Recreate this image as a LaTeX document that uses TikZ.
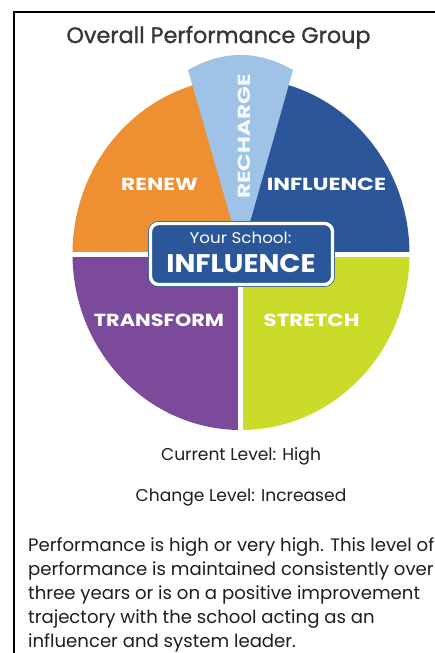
\documentclass[tikz,border=0pt]{standalone}
\usepackage{fontspec}
\setmainfont{Poppins}
\newfontfamily\headfont{Poppins}[FakeBold=1.1]
\definecolor{renewor}{HTML}{EE8F32}
\definecolor{rechargeblue}{HTML}{9EC3E6}
\definecolor{influblue}{HTML}{2B5699}
\definecolor{stretchgreen}{HTML}{CBDB2A}
\definecolor{transpurple}{HTML}{7B4A9A}
\definecolor{titlegray}{HTML}{363636}
\definecolor{bodyink}{HTML}{1E1E1E}
% stretch a label sideways to the wide lettering of the wheel
\newcommand\widelabel[2]{\scalebox{#1}[1]{#2}}
\tikzset{
  quadlabel/.style={text=white, font=\bfseries\fontsize{17.5}{19}\selectfont, inner sep=0pt, anchor=base},
  schoolbox/.style={fill=influblue, draw=influblue, double=white, double distance=3.4pt,
    line width=0.7pt, rounded corners=8pt, minimum width=182pt, minimum height=61pt, inner sep=0pt},
  infotext/.style={text=bodyink, font=\fontsize{17.1}{20}\selectfont, inner sep=0pt, anchor=base},
  paraline/.style={text=bodyink, font=\fontsize{18.1}{22}\selectfont, inner sep=0pt, anchor=base west},
  gap/.style={white, line width=5pt}
}
\begin{document}
\begin{tikzpicture}[x=1pt,y=1pt]
\useasboundingbox (0,0) rectangle (435,-653);
\clip (0,0) rectangle (435,-653);
\fill[white] (0,0) rectangle (435,-653);

% frame around the panel
\draw[line width=2pt] (14,-653) -- (14,-12) -- (435,-12);

% title
\node[text=titlegray, font=\headfont\fontsize{22.3}{25}\selectfont, inner sep=0pt, anchor=base] (title) at (218.5,-43) {Overall Performance Group};

% the four quadrants of the wheel
\coordinate (c) at (241,-254);
\fill[renewor] (c) -- ++(-168.5,0) arc[start angle=180, end angle=90, x radius=168.5, y radius=176] -- cycle;
\fill[influblue] (c) -- ++(0,176) arc[start angle=90, end angle=0, x radius=168.5, y radius=176] -- cycle;
\fill[stretchgreen] (c) -- ++(168.5,0) arc[start angle=0, end angle=-90, x radius=168.5, y radius=176] -- cycle;
\fill[transpurple] (c) -- ++(0,-176) arc[start angle=-90, end angle=-180, x radius=168.5, y radius=176] -- cycle;

% the recharge wedge reaching beyond the rim
\fill[rechargeblue] (c) -- (188,-70) .. controls (223,-50) and (258,-50) .. (293,-70) -- cycle;

% white separators between quadrants
\draw[gap] (66,-254) -- (416,-254);
\draw[gap] (240.5,-254) -- (240.5,-436);

% labels
\node[quadlabel] (renew) at (159.5,-190.5) {\widelabel{1.24}{RENEW}};
\node[quadlabel] (influence) at (326.5,-190.5) {\widelabel{1.27}{INFLUENCE}};
\node[quadlabel] (transform) at (159,-326.5) {\widelabel{1.19}{TRANSFORM}};
\node[quadlabel] (stretch) at (311.5,-326.5) {\widelabel{1.22}{STRETCH}};
\node[quadlabel, anchor=center, rotate=90, text=white!92!rechargeblue] (recharge) at (244,-136.5) {\widelabel{1.32}{RECHARGE}};

% centre badge
\node[schoolbox] (school) at (241.5,-254) {};
\node[text=white, font=\fontsize{15.5}{17}\selectfont, inner sep=0pt, anchor=base] (yours) at (240.5,-243) {\widelabel{1.08}{Your School:}};
\node[text=white, font=\bfseries\fontsize{25.5}{28}\selectfont, inner sep=0pt, anchor=base] (current) at (241,-272) {\widelabel{1.09}{INFLUENCE}};

% levels
\node[infotext] (level) at (241,-460.5) {Current Level: High};
\node[infotext] (change) at (241,-501.5) {Change Level: Increased};

% description
\node[paraline] (p1) at (28,-551) {Performance is high or very high. This level of};
\node[paraline] (p2) at (28,-575) {performance is maintained consistently over};
\node[paraline] (p3) at (28,-599) {three years or is on a positive improvement};
\node[paraline] (p4) at (28,-623) {trajectory with the school acting as an};
\node[paraline] (p5) at (28,-647) {influencer and system leader.};
\end{tikzpicture}
\end{document}
